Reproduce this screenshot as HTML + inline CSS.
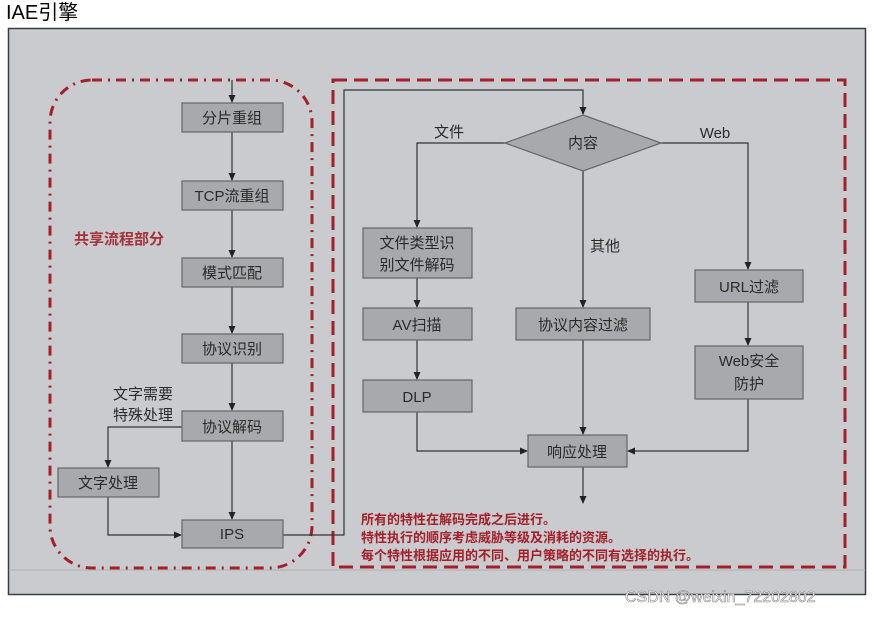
<!DOCTYPE html>
<html><head><meta charset="utf-8"><style>
body{margin:0;background:#fff;width:872px;height:615px;overflow:hidden;font-family:"Liberation Sans","Noto Sans CJK SC",sans-serif}
</style></head><body>
<svg width="872" height="615" xmlns="http://www.w3.org/2000/svg" font-family="Liberation Sans, Noto Sans CJK SC, sans-serif">
<defs><marker id="a" markerWidth="8" markerHeight="8" refX="7" refY="4" orient="auto" markerUnits="userSpaceOnUse"><path d="M0,0.5 L8,4 L0,7.5z" fill="#222"/></marker></defs>
<text x="6" y="19" font-size="20" fill="#000">IAE引擎</text>
<rect x="8.5" y="28.5" width="857" height="566" fill="#cacbce" stroke="#3a3d48" stroke-width="1.5"/>
<line x1="9" y1="570" x2="865" y2="570" stroke="#b8b9bc" stroke-width="1.5"/>
<rect x="50" y="80" width="262" height="488" rx="42" fill="none" stroke="#a3202a" stroke-width="3" stroke-dasharray="10,6,2,6"/>
<rect x="333" y="80" width="512" height="487" fill="none" stroke="#a3202a" stroke-width="3" stroke-dasharray="14,7"/>
<text x="74" y="244" font-size="15" font-weight="bold" fill="#a3323a">共享流程部分</text>
<g stroke="#333" stroke-width="1.2" fill="none">
<line x1="232" y1="80" x2="232" y2="102" marker-end="url(#a)"/>
<line x1="232" y1="132" x2="232" y2="180" marker-end="url(#a)"/>
<line x1="232" y1="210" x2="232" y2="257" marker-end="url(#a)"/>
<line x1="232" y1="287" x2="232" y2="333" marker-end="url(#a)"/>
<line x1="232" y1="363" x2="232" y2="410" marker-end="url(#a)"/>
<line x1="232" y1="441" x2="232" y2="519" marker-end="url(#a)"/>
<polyline points="182,427 108,427 108,467" marker-end="url(#a)"/>
<polyline points="108,497 108,535 181,535" marker-end="url(#a)"/>
<polyline points="283,535 344,535 344,90 583,90 583,114" marker-end="url(#a)"/>
<polyline points="505,143 417,143 417,227" marker-end="url(#a)"/>
<line x1="417" y1="278" x2="417" y2="307" marker-end="url(#a)"/>
<line x1="417" y1="340" x2="417" y2="379" marker-end="url(#a)"/>
<polyline points="417,412 417,451 527,451" marker-end="url(#a)"/>
<line x1="583" y1="171" x2="583" y2="307" marker-end="url(#a)"/>
<line x1="583" y1="340" x2="583" y2="434" marker-end="url(#a)"/>
<polyline points="661,143 748,143 748,269" marker-end="url(#a)"/>
<line x1="748" y1="302" x2="748" y2="345" marker-end="url(#a)"/>
<polyline points="748,399 748,451 628,451" marker-end="url(#a)"/>
<line x1="583" y1="467" x2="583" y2="503" marker-end="url(#a)"/>
</g>
<g fill="#a8a9ac" stroke="#666" stroke-width="1.2">
<rect x="182" y="103" width="101" height="29"/>
<rect x="182" y="181" width="101" height="29"/>
<rect x="182" y="258" width="101" height="29"/>
<rect x="182" y="334" width="101" height="29"/>
<rect x="182" y="411" width="101" height="30"/>
<rect x="182" y="520" width="101" height="28"/>
<rect x="58" y="468" width="101" height="29"/>
<polygon points="583,115 661,143 583,171 505,143"/>
<rect x="363" y="228" width="109" height="50"/>
<rect x="363" y="308" width="109" height="32"/>
<rect x="363" y="380" width="109" height="32"/>
<rect x="516" y="308" width="134" height="32"/>
<rect x="528" y="435" width="99" height="32"/>
<rect x="695" y="270" width="108" height="32"/>
<rect x="695" y="346" width="108" height="53"/>
</g>
<g font-size="15" fill="#2a2a2a" text-anchor="middle">
<text x="232" y="123">分片重组</text>
<text x="232" y="201">TCP流重组</text>
<text x="232" y="278">模式匹配</text>
<text x="232" y="354">协议识别</text>
<text x="232" y="432">协议解码</text>
<text x="232" y="539">IPS</text>
<text x="108" y="488">文字处理</text>
<text x="583" y="148">内容</text>
<text x="417" y="248">文件类型识</text>
<text x="417" y="270">别文件解码</text>
<text x="417" y="330">AV扫描</text>
<text x="417" y="402">DLP</text>
<text x="583" y="330">协议内容过滤</text>
<text x="577" y="457">响应处理</text>
<text x="749" y="292">URL过滤</text>
<text x="749" y="366">Web安全</text>
<text x="749" y="389">防护</text>
<text x="449" y="137">文件</text>
<text x="605" y="251">其他</text>
<text x="715" y="138">Web</text>
<text x="143" y="399">文字需要</text>
<text x="143" y="420">特殊处理</text>
</g>
<g font-size="13" font-weight="bold" fill="#a3202a">
<text x="361" y="524">所有的特性在解码完成之后进行。</text>
<text x="361" y="542">特性执行的顺序考虑威胁等级及消耗的资源。</text>
<text x="361" y="560">每个特性根据应用的不同、用户策略的不同有选择的执行。</text>
</g>
<text x="625" y="602" font-size="16" fill="#fff" stroke="#888" stroke-width="0.6">CSDN @weixin_72202802</text>
</svg>
</body></html>
